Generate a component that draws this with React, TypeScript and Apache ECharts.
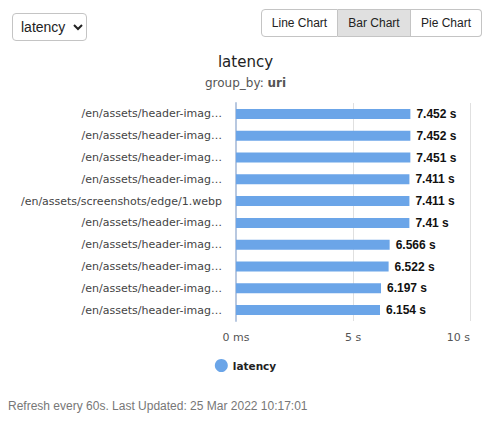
import React, { useEffect, useRef } from "react";
import * as echarts from "echarts";

const categories = [
  "/en/assets/header-imag…",
  "/en/assets/header-imag…",
  "/en/assets/header-imag…",
  "/en/assets/header-imag…",
  "/en/assets/screenshots/edge/1.webp",
  "/en/assets/header-imag…",
  "/en/assets/header-imag…",
  "/en/assets/header-imag…",
  "/en/assets/header-imag…",
  "/en/assets/header-imag…",
];
const latencySeconds = [7.452, 7.452, 7.451, 7.411, 7.411, 7.41, 6.566, 6.522, 6.197, 6.154];
const xTicks = [0, 5, 10];
const seriesName = "latency";
const title = "latency";
const groupBy = "uri";
const footer = "Refresh every 60s. Last Updated: 25 Mar 2022 10:17:01";

const UI_FONT = "'Liberation Sans', Arial, sans-serif";
const CHART_FONT = "'DejaVu Sans', Verdana, sans-serif";

export default function App() {
  const ref = useRef<HTMLDivElement>(null);
  useEffect(() => {
    if (!ref.current) return;
    const chart = echarts.init(ref.current, undefined, { renderer: "svg" });
    chart.setOption({
      animation: false,
      title: {
        text: title,
        subtext: `group_by: {b|${groupBy}}`,
        left: "center",
        top: 4,
        itemGap: 8,
        textStyle: { fontFamily: CHART_FONT, fontSize: 15, fontWeight: "normal", color: "#222" },
        subtextStyle: {
          fontFamily: CHART_FONT,
          fontSize: 12,
          color: "#555",
          rich: { b: { fontFamily: CHART_FONT, fontSize: 12, fontWeight: "bold", color: "#555" } },
        },
      },
      legend: {
        data: [seriesName],
        bottom: 8,
        left: "center",
        icon: "circle",
        itemWidth: 13,
        itemHeight: 13,
        itemGap: 8,
        textStyle: { fontFamily: CHART_FONT, fontSize: 10.5, fontWeight: "bold", color: "#222" },
      },
      grid: { left: 236, right: 21, top: 58, bottom: 64, containLabel: false },
      xAxis: {
        type: "value",
        min: 0,
        max: 10,
        interval: 5,
        axisLine: { show: false },
        axisTick: { show: false },
        splitLine: { show: true, lineStyle: { color: "#e0e0e0", width: 1 } },
        axisLabel: {
          fontFamily: CHART_FONT,
          fontSize: 11,
          color: "#555",
          margin: 11,
          alignMaxLabel: "right",
          formatter: (v: number) => (xTicks.includes(v) ? (v === 0 ? "0 ms" : `${v} s`) : ""),
        },
      },
      yAxis: {
        type: "category",
        data: categories,
        inverse: true,
        axisLine: { show: true, lineStyle: { color: "#b8c8e0", width: 2 } },
        axisTick: { show: false },
        axisLabel: { fontFamily: CHART_FONT, fontSize: 11, color: "#444", margin: 14 },
      },
      series: [
        {
          name: seriesName,
          type: "bar",
          data: latencySeconds,
          barWidth: 10,
          itemStyle: { color: "#6ba5e8" },
          label: {
            show: true,
            position: "right",
            distance: 6,
            fontFamily: UI_FONT,
            fontSize: 12,
            fontWeight: "bold",
            color: "#111",
            formatter: (p: any) => `${p.value} s`,
          },
        },
      ],
    });
    return () => chart.dispose();
  }, []);

  const btn = (active: boolean, first: boolean, last: boolean, width: number): React.CSSProperties => ({
    width,
    height: 28,
    padding: 0,
    fontFamily: UI_FONT,
    fontSize: 12,
    color: "#222",
    background: active ? "#e0e0e0" : "#fff",
    border: "1px solid #c4c4c4",
    borderLeftWidth: first ? 1 : 0,
    borderRadius: first ? "4px 0 0 4px" : last ? "0 4px 4px 0" : 0,
    boxSizing: "border-box",
    lineHeight: "26px",
    textAlign: "center",
    whiteSpace: "nowrap",
    flex: "none",
  });

  return (
    <div style={{ position: "absolute", left: 0, top: 0, width: 491, height: 425, background: "#fff", overflow: "hidden" }}>
      <select
        defaultValue="latency"
        style={{
          position: "absolute",
          left: 12,
          top: 13,
          width: 75,
          height: 28,
          fontFamily: UI_FONT,
          fontSize: 14,
          color: "#222",
          background: "#fff",
          border: "1px solid #c4c4c4",
          borderRadius: 4,
          padding: "0 4px",
        }}
      >
        <option value="latency">latency</option>
      </select>
      <div style={{ position: "absolute", left: 261, top: 9, display: "flex", width: 220 }}>
        <div style={btn(false, true, false, 77)}>Line Chart</div>
        <div style={btn(true, false, false, 73)}>Bar Chart</div>
        <div style={btn(false, false, true, 71)}>Pie Chart</div>
      </div>
      <div ref={ref} style={{ position: "absolute", left: 0, top: 45, width: 491, height: 340 }} />
      <div
        style={{
          position: "absolute",
          left: 8,
          top: 399,
          fontFamily: UI_FONT,
          fontSize: 12,
          color: "#777",
          whiteSpace: "nowrap",
        }}
      >
        {footer}
      </div>
    </div>
  );
}
